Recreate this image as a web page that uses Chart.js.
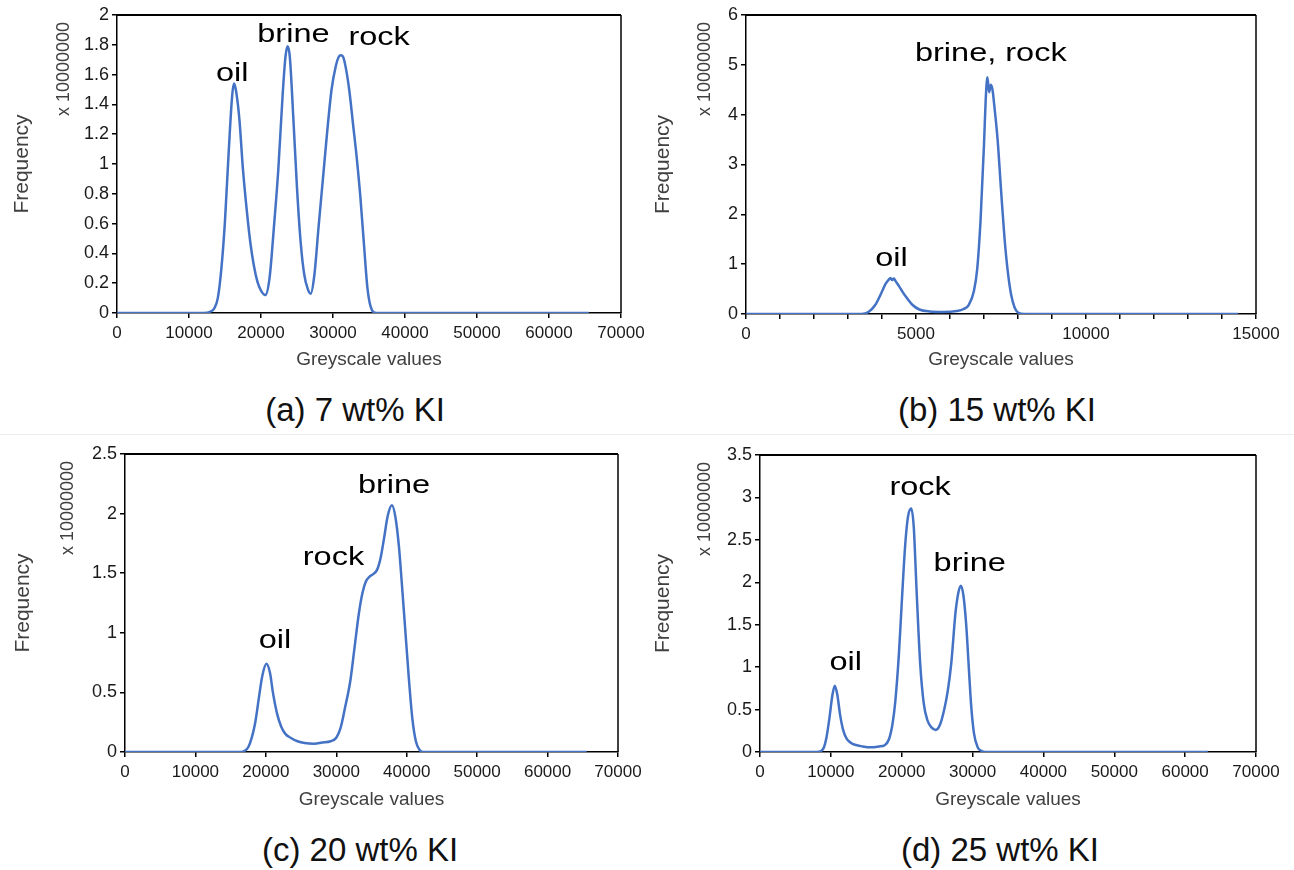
<!DOCTYPE html>
<html>
<head>
<meta charset="utf-8">
<script src="https://cdn.jsdelivr.net/npm/chart.js@4.4.1/dist/chart.umd.min.js"></script>
<style>
  html, body { margin: 0; padding: 0; background: #fff; }
  body { width: 1294px; height: 870px; position: relative; overflow: hidden; font-family: 'Liberation Sans', Arial, sans-serif; }
  canvas { position: absolute; }
  .cap { position: absolute; width: 400px; text-align: center; font-size: 33px; line-height: 36px; color: #111; }
  .sep { position: absolute; left: 0; width: 1294px; top: 434px; border-top: 1px solid #ececec; }
</style>
</head>
<body>
<canvas id="chartA" width="650" height="380" style="left:0;top:0"></canvas>
<canvas id="chartB" width="654" height="380" style="left:640px;top:0"></canvas>
<canvas id="chartC" width="650" height="380" style="left:0;top:440px"></canvas>
<canvas id="chartD" width="649" height="380" style="left:645px;top:440px"></canvas>
<div class="sep"></div>
<div class="cap" style="left:155px;top:392px">(a) 7 wt% KI</div>
<div class="cap" style="left:797px;top:392px">(b) 15 wt% KI</div>
<div class="cap" style="left:160px;top:832px">(c) 20 wt% KI</div>
<div class="cap" style="left:800px;top:832px">(d) 25 wt% KI</div>
<script>
// greyscale histograms, frequency in units of 10^7

// (a) 7 wt% KI
const aX = [0, 12000, 13000, 13500, 14000, 14500, 15000, 15500, 16000, 16250, 16500, 17000, 17500, 18000, 18500, 19000, 19500, 20000, 20600, 21200, 21800, 22400, 23000, 23400, 23700, 24000, 24500, 25000, 25500, 26000, 26500, 26900, 27400, 28000, 28600, 29200, 29800, 30400, 30800, 31100, 31400, 31800, 32300, 32800, 33300, 33800, 34300, 34800, 35400, 36000, 65535];
const aY = [0, 0, 0.01, 0.03, 0.10, 0.30, 0.62, 1.07, 1.46, 1.54, 1.50, 1.30, 0.96, 0.70, 0.48, 0.32, 0.21, 0.15, 0.12, 0.24, 0.58, 0.96, 1.46, 1.72, 1.79, 1.72, 1.30, 0.84, 0.48, 0.26, 0.16, 0.13, 0.25, 0.58, 0.90, 1.22, 1.50, 1.66, 1.72, 1.73, 1.72, 1.64, 1.48, 1.26, 1.04, 0.78, 0.46, 0.16, 0.02, 0, 0];
const aLabels = ['oil', 'brine', 'rock'];
const aLabelX = [16000, 24500, 36400];
const aLabelY = [1.56, 1.82, 1.80];

// (b) 15 wt% KI
const bX = [0, 3400, 3600, 3800, 4000, 4100, 4200, 4250, 4300, 4350, 4400, 4500, 4600, 4700, 4900, 5100, 5400, 5800, 6200, 6400, 6550, 6700, 6800, 6900, 7000, 7050, 7100, 7150, 7200, 7250, 7300, 7400, 7500, 7600, 7700, 7800, 7900, 8000, 8200, 14470];
const bY = [0, 0, 0.04, 0.18, 0.45, 0.60, 0.69, 0.72, 0.68, 0.71, 0.66, 0.56, 0.45, 0.35, 0.18, 0.09, 0.05, 0.04, 0.06, 0.10, 0.18, 0.45, 0.90, 1.90, 3.40, 4.30, 4.75, 4.45, 4.60, 4.50, 4.20, 3.50, 2.50, 1.55, 0.85, 0.38, 0.13, 0.03, 0, 0];
const bLabels = ['brine, rock', 'oil'];
const bLabelX = [7200, 4280];
const bLabelY = [5.07, 0.96];

// (c) 20 wt% KI
const cX = [0, 16500, 17000, 17500, 18000, 18500, 19000, 19500, 20100, 20600, 21000, 21600, 22200, 22800, 23500, 24500, 25500, 26900, 28000, 29200, 30000, 30600, 31200, 32000, 32600, 33200, 33700, 34200, 34700, 35200, 35800, 36300, 36800, 37300, 37900, 38400, 38900, 39300, 39700, 40300, 40800, 41300, 41800, 42300, 65535];
const cY = [0, 0, 0.01, 0.04, 0.12, 0.25, 0.45, 0.64, 0.74, 0.66, 0.50, 0.32, 0.21, 0.15, 0.12, 0.09, 0.075, 0.07, 0.08, 0.09, 0.12, 0.20, 0.36, 0.60, 0.88, 1.16, 1.33, 1.43, 1.47, 1.49, 1.53, 1.63, 1.80, 1.98, 2.07, 1.97, 1.72, 1.42, 1.10, 0.62, 0.28, 0.09, 0.02, 0, 0];
const cLabels = ['oil', 'rock', 'brine'];
const cLabelX = [21300, 29600, 38200];
const cLabelY = [0.87, 1.57, 2.17];

// (d) 25 wt% KI
const dX = [0, 8000, 8600, 9000, 9400, 9800, 10200, 10550, 10900, 11300, 11700, 12200, 12800, 13400, 14500, 15700, 16800, 17600, 18200, 18700, 19100, 19600, 20000, 20500, 20900, 21350, 21700, 22100, 22600, 23100, 23600, 24200, 24800, 25400, 26000, 26500, 27000, 27600, 28000, 28350, 28700, 29100, 29500, 29800, 30200, 30700, 31300, 31800, 63200];
const dY = [0, 0, 0.01, 0.05, 0.18, 0.40, 0.66, 0.78, 0.68, 0.44, 0.27, 0.16, 0.11, 0.085, 0.065, 0.055, 0.065, 0.08, 0.15, 0.33, 0.60, 1.15, 1.75, 2.45, 2.78, 2.87, 2.65, 1.90, 1.05, 0.58, 0.38, 0.29, 0.26, 0.32, 0.50, 0.72, 1.05, 1.65, 1.88, 1.96, 1.85, 1.50, 0.95, 0.55, 0.22, 0.06, 0.01, 0, 0];
const dLabels = ['rock', 'brine', 'oil'];
const dLabelX = [22600, 29600, 12100];
const dLabelY = [3.03, 2.13, 0.97];

const FONT = "'Liberation Sans', Arial, sans-serif";
const BLUE = '#4472C4';

// box top/right edges, peak names and the "x 10000000" multiplier
const framePlugin = {
    id: 'frame',
    afterDraw(chart, args, opts) {
        const { ctx, chartArea: a, scales } = chart;
        ctx.save();
        ctx.strokeStyle = '#000';
        ctx.lineWidth = 2;
        ctx.beginPath(); ctx.moveTo(a.left, a.top); ctx.lineTo(a.right, a.top); ctx.stroke();
        ctx.lineWidth = 1.5;
        ctx.beginPath(); ctx.moveTo(a.right, a.top); ctx.lineTo(a.right, a.bottom); ctx.stroke();

        // the figure's lettering is a bit wide, so stretch it sideways
        ctx.fillStyle = '#000';
        ctx.font = `26px ${FONT}`;
        ctx.textAlign = 'center';
        ctx.textBaseline = 'alphabetic';
        opts.names.forEach((t, i) => {
            ctx.save();
            ctx.translate(scales.x.getPixelForValue(opts.xs[i]), scales.y.getPixelForValue(opts.ys[i]));
            ctx.scale(1.25, 1);
            ctx.fillText(t, 0, 0);
            ctx.restore();
        });

        ctx.translate(a.left - opts.multOffset, a.top + 54);
        ctx.rotate(-Math.PI / 2);
        ctx.font = `18px ${FONT}`;
        ctx.fillStyle = '#404040';
        ctx.textBaseline = 'middle';
        ctx.fillText('x 10000000', 0, 0);
        ctx.restore();
    }
};

function histChart(id, xs, ys, cfg) {
    const pts = xs.map((x, i) => ({ x, y: ys[i] }));
    const axisGrid = { display: true, drawOnChartArea: false, drawTicks: true, tickLength: 5, color: '#000', lineWidth: 1.5 };
    const axisBorder = { display: true, color: '#000', width: 1.5 };
    return new Chart(document.getElementById(id), {
        type: 'line',
        data: {
            datasets: [{
                data: pts, borderColor: BLUE, borderWidth: 2.5, pointRadius: 0,
                cubicInterpolationMode: 'monotone', fill: false
            }]
        },
        options: {
            responsive: false,
            animation: false,
            layout: { padding: cfg.pad },
            plugins: {
                legend: { display: false },
                tooltip: { enabled: false },
                frame: { names: cfg.names, xs: cfg.lx, ys: cfg.ly, multOffset: cfg.multOffset }
            },
            scales: {
                x: {
                    type: 'linear', min: 0, max: cfg.xMax,
                    afterFit: s => { s.height = cfg.xH; },
                    ticks: {
                        stepSize: cfg.xStep, autoSkip: false, maxRotation: 0, padding: 5,
                        font: { family: FONT, size: 17 }, color: '#1a1a1a',
                        callback: cfg.xLabel || (v => String(v))
                    },
                    grid: axisGrid,
                    border: axisBorder,
                    title: {
                        display: true, text: 'Greyscale values', color: '#404040',
                        font: { family: FONT, size: 19 }, padding: { top: 0, bottom: cfg.xtPad }
                    }
                },
                y: {
                    min: 0, max: cfg.yMax,
                    afterFit: s => { s.width = cfg.yW; },
                    ticks: {
                        stepSize: cfg.yStep, padding: 3,
                        font: { family: FONT, size: 18 }, color: '#1a1a1a',
                        callback: v => String(+v.toFixed(2))
                    },
                    grid: axisGrid,
                    border: axisBorder,
                    title: {
                        display: true, text: 'Frequency', color: '#404040',
                        font: { family: FONT, size: 21 }, padding: { top: cfg.ytPad, bottom: 0 }
                    }
                }
            }
        },
        plugins: [framePlugin]
    });
}

histChart('chartA', aX, aY, {
    pad: { left: 0, top: 15, right: 29, bottom: 0 }, yW: 117, xH: 67, xtPad: 9, ytPad: 10,
    xMax: 70000, xStep: 10000, yMax: 2, yStep: 0.2,
    names: aLabels, lx: aLabelX, ly: aLabelY, multOffset: 53
});

histChart('chartB', bX, bY, {
    pad: { left: 0, top: 15, right: 38, bottom: 0 }, yW: 106, xH: 66, xtPad: 9, ytPad: 11,
    xMax: 15000, xStep: 1000, yMax: 6, yStep: 1,
    xLabel: v => (v % 5000 === 0 ? String(v) : ''),
    names: bLabels, lx: bLabelX, ly: bLabelY, multOffset: 41
});

histChart('chartC', cX, cY, {
    pad: { left: 0, top: 14, right: 32, bottom: 0 }, yW: 125, xH: 68, xtPad: 9, ytPad: 11,
    xMax: 70000, xStep: 10000, yMax: 2.5, yStep: 0.5,
    names: cLabels, lx: cLabelX, ly: cLabelY, multOffset: 57
});

histChart('chartD', dX, dY, {
    pad: { left: 0, top: 15, right: 38, bottom: 0 }, yW: 115, xH: 68, xtPad: 9, ytPad: 6,
    xMax: 70000, xStep: 10000, yMax: 3.5, yStep: 0.5,
    names: dLabels, lx: dLabelX, ly: dLabelY, multOffset: 55
});
</script>
</body>
</html>
